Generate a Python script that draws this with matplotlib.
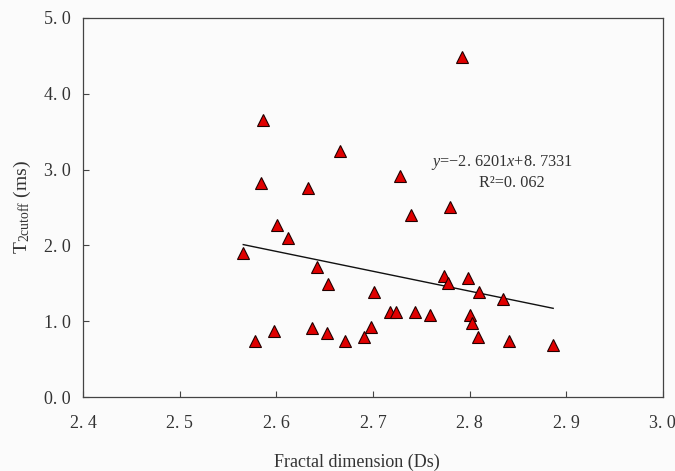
import matplotlib
matplotlib.use("Agg")
import matplotlib.pyplot as plt
import numpy as np

plt.rcParams['font.family'] = ['Liberation Serif', 'DejaVu Serif']
plt.rcParams['mathtext.fontset'] = 'custom'
plt.rcParams['mathtext.rm'] = 'Liberation Serif'
plt.rcParams['mathtext.it'] = 'Liberation Serif:italic'

# Data
fractal_dim = [2.5865, 2.6659, 2.5845, 2.6331, 2.7283, 2.7393, 2.7793, 2.6010,
               2.6120, 2.5658, 2.6423, 2.6534, 2.7010, 2.7740, 2.7776, 2.7986,
               2.8096, 2.8350, 2.7176, 2.7240, 2.7440, 2.7590, 2.8007, 2.8027,
               2.8089, 2.8410, 2.5776, 2.5979, 2.6365, 2.6524, 2.6710, 2.6910,
               2.6985, 2.7917, 2.8865]
t2_cutoff = [3.65, 3.25, 2.82, 2.76, 2.91, 2.405, 2.50, 2.27,
             2.10, 1.90, 1.71, 1.49, 1.385, 1.59, 1.50, 1.57,
             1.385, 1.29, 1.12, 1.12, 1.12, 1.08, 1.08, 0.98,
             0.79, 0.74, 0.74, 0.87, 0.915, 0.85, 0.735, 0.79,
             0.92, 4.49, 0.686]
slope = -2.6201
intercept = 8.7331
r2_text = "R²=0. 062"
eq_text = r"$\it{y}$=−2. 6201$\it{x}$+8. 7331"

x_ticks = [2.4, 2.5, 2.6, 2.7, 2.8, 2.9, 3.0]
x_tick_labels = ["2. 4", "2. 5", "2. 6", "2. 7", "2. 8", "2. 9", "3. 0"]
y_ticks = [0, 1, 2, 3, 4, 5]
y_tick_labels = ["0. 0", "1. 0", "2. 0", "3. 0", "4. 0", "5. 0"]

text_color = '#333333'
bg = '#fbfbfb'

fig = plt.figure(figsize=(6.75, 4.71), dpi=100, facecolor=bg)
ax = fig.add_axes([0.123, 0.157, 0.859, 0.805], facecolor=bg)

ax.plot(fractal_dim, t2_cutoff, linestyle='none', marker='^', markersize=8,
        markerfacecolor='#e00000', markeredgecolor='#200000', markeredgewidth=0.8,
        zorder=3)

xs = np.array([min(fractal_dim), max(fractal_dim)])
ax.plot(xs, slope * xs + intercept, color='#111111', linewidth=1.0, zorder=2)

ax.set_xlim(2.4, 3.0)
ax.set_ylim(0, 5)
ax.set_xticks(x_ticks)
ax.set_xticklabels(x_tick_labels)
ax.set_yticks(y_ticks)
ax.set_yticklabels(y_tick_labels)
ax.tick_params(direction='in', length=4, width=0.8, colors='#444444',
               labelcolor=text_color, labelsize=13)
ax.tick_params(axis='x', pad=13)
ax.tick_params(axis='y', pad=9)
for s in ax.spines.values():
    s.set_color('#444444')
    s.set_linewidth(0.9)

ax.set_xlabel("Fractal dimension (Ds)", fontsize=13, color=text_color, labelpad=12)
ax.xaxis.set_label_coords(0.473, -0.15)
ax.set_ylabel(r"T$_{\mathregular{2cutoff}}$ (ms)", fontsize=14, color=text_color, labelpad=8)

ax.text(2.8334, 3.09, eq_text, ha='center', va='center', fontsize=11.7, color=text_color)
ax.text(2.8438, 2.82, r2_text, ha='center', va='center', fontsize=11.7, color=text_color)

fig.savefig("out.png", dpi=100, facecolor=bg)
